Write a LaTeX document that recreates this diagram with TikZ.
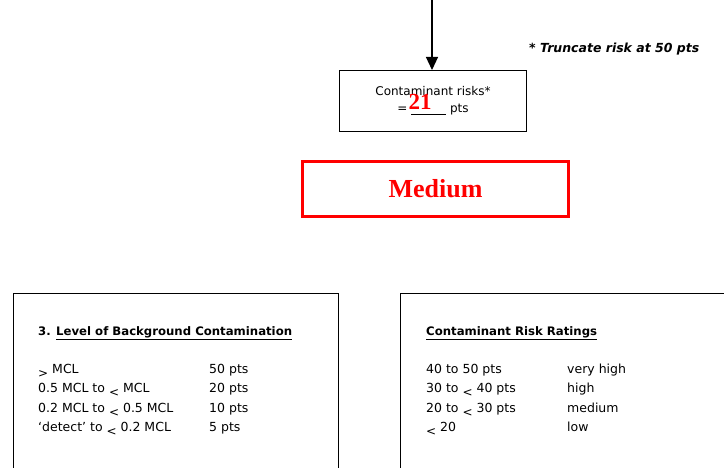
\documentclass[tikz,border=0pt]{standalone}
\usepackage{fontspec}
\setmainfont{DejaVu Sans}
\newfontfamily\timesfont{Liberation Serif}
\usetikzlibrary{arrows.meta}
\newcommand{\lowlt}{\raisebox{-0.6ex}{\fontsize{12}{14}\selectfont <}}
\newcommand{\lowgt}{\raisebox{-0.6ex}{\fontsize{12}{14}\selectfont >}}
\tikzset{panel/.style={draw,line width=1pt},
  risk box/.style={draw,line width=1pt,minimum width=187pt,minimum height=61pt,align=center,font=\fontsize{12}{17}\selectfont},
  rating box/.style={draw=red,line width=3pt,minimum width=266pt,minimum height=55pt,text=red,font=\timesfont\bfseries\fontsize{26}{30}\selectfont},
  score label/.style={text=red,inner sep=0pt,anchor=base,font=\timesfont\bfseries\fontsize{23}{26}\selectfont},
  row label/.style={anchor=base west,inner sep=0pt,font=\fontsize{12.5}{14}\selectfont},
  head label/.style={anchor=base west,inner sep=0pt,font=\bfseries\fontsize{11.7}{14}\selectfont},
  note label/.style={anchor=base west,inner sep=0pt,font=\bfseries\itshape\fontsize{12.5}{14}\selectfont}}

\begin{document}
\begin{tikzpicture}[x=1pt,y=-1pt]
			\clip (0,0) rectangle (724,468);
			\coordinate (top) at (432,0);
			\node[risk box] (risk) at (433,101) {Contaminant risks*\\ = \underline{\hspace{35pt}} pts};
			\node[score label] (score) at (420,110) {21};
			\node[note label] (note) at (529,53) {* Truncate risk at 50 pts};
			\node[rating box] (rating) at (435.5,189) {Medium};
			\draw[line width=1.2pt,-{Triangle[length=13pt,width=12pt]}] (top) -- (risk.north -| top);
			\draw[panel] (13.5,480) -- (13.5,294) -- (338,294) -- (338,480);
			\draw[panel] (400.5,480) -- (400.5,294) -- (740,294);
			\node[head label] (bghead) at (38,335) {3. \underline{Level of Background Contamination}};
			\node[row label] (bg1) at (38,373) {\lowgt\ MCL};
			\node[row label] (bg2) at (38,392) {0.5 MCL to \lowlt\ MCL};
			\node[row label] (bg3) at (38,412) {0.2 MCL to \lowlt\ 0.5 MCL};
			\node[row label] (bg4) at (38,431) {‘detect’ to \lowlt\ 0.2 MCL};
			\node[row label] (pts1) at (209,373) {50 pts};
			\node[row label] (pts2) at (209,392) {20 pts};
			\node[row label] (pts3) at (209,412) {10 pts};
			\node[row label] (pts4) at (209,431) {5 pts};
			\node[head label] (rrhead) at (426,335) {\underline{Contaminant Risk Ratings}};
			\node[row label] (rr1) at (426,373) {40 to 50 pts};
			\node[row label] (rr2) at (426,392) {30 to \lowlt\ 40 pts};
			\node[row label] (rr3) at (426,412) {20 to \lowlt\ 30 pts};
			\node[row label] (rr4) at (426,431) {\lowlt\ 20};
			\node[row label] (lv1) at (567,373) {very high};
			\node[row label] (lv2) at (567,392) {high};
			\node[row label] (lv3) at (567,412) {medium};
			\node[row label] (lv4) at (567,431) {low};
		\end{tikzpicture}
\end{document}
